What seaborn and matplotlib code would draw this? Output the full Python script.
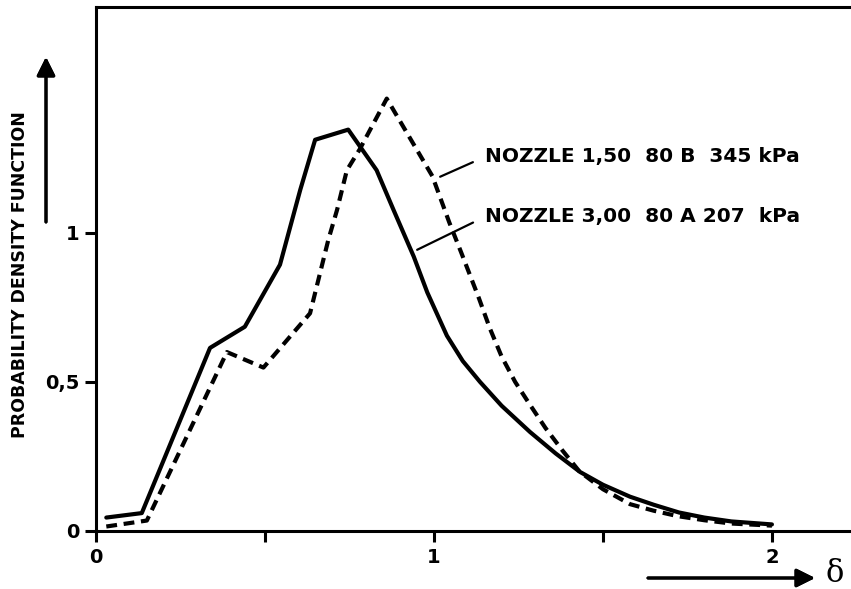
import pandas as pd
import seaborn as sns
import matplotlib.pyplot as plt

# Probability density vs delta
solid_x = [0.03, 0.135, 0.337, 0.44, 0.544, 0.604, 0.648, 0.746, 0.83, 0.88,
           0.94, 0.98, 1.038, 1.085, 1.136, 1.20, 1.284, 1.36, 1.432, 1.50,
           1.58, 1.65, 1.725, 1.80, 1.88, 2.0]
solid_y = [0.045, 0.06, 0.614, 0.685, 0.893, 1.144, 1.312, 1.346, 1.21, 1.077,
           0.92, 0.80, 0.655, 0.57, 0.50, 0.42, 0.332, 0.26, 0.198, 0.155,
           0.115, 0.088, 0.062, 0.045, 0.032, 0.022]

dashed_x = [0.03, 0.15, 0.387, 0.495, 0.633, 0.687, 0.713, 0.742, 0.78, 0.86,
            0.995, 1.045, 1.08, 1.133, 1.165, 1.20, 1.24, 1.28, 1.33, 1.38,
            1.43, 1.50, 1.58, 1.65, 1.72, 1.80, 1.88, 2.0]
dashed_y = [0.015, 0.035, 0.60, 0.548, 0.73, 0.976, 1.077, 1.21, 1.28, 1.45,
            1.19, 1.035, 0.935, 0.78, 0.68, 0.585, 0.50, 0.43, 0.345, 0.27,
            0.20, 0.14, 0.09, 0.068, 0.05, 0.036, 0.025, 0.018]

label_a = 'NOZZLE 3,00  80 A 207  kPa'
label_b = 'NOZZLE 1,50  80 B  345 kPa'

y_ticks = [0, 0.5, 1]
y_ticklabels = ['0', '0,5', '1']
x_ticks = [0, 0.5, 1, 1.5, 2]
x_ticklabels = ['0', '', '1', '', '2']

df_a = pd.DataFrame({'delta': solid_x, 'pdf': solid_y})
df_b = pd.DataFrame({'delta': dashed_x, 'pdf': dashed_y})

sns.set_style('ticks')
plt.rcParams['font.family'] = ['DejaVu Sans']
plt.rcParams['text.color'] = 'black'
plt.rcParams['xtick.color'] = 'black'
plt.rcParams['ytick.color'] = 'black'
plt.rcParams['xtick.labelcolor'] = 'black'
plt.rcParams['ytick.labelcolor'] = 'black'

fig = plt.figure(figsize=(8.51, 5.89), dpi=100)
ax = fig.add_axes([0.113, 0.0985, 0.887, 0.890])

sns.lineplot(data=df_a, x='delta', y='pdf', ax=ax, color='black',
             linewidth=3.0, sort=False)
sns.lineplot(data=df_b, x='delta', y='pdf', ax=ax, color='black',
             linewidth=3.0, sort=False, dashes=False, linestyle=(0, (2.6, 1.6)))

ax.set_xlim(0, 2.234)
ax.set_ylim(0, 1.758)
ax.set_xticks(x_ticks)
ax.set_xticklabels(x_ticklabels)
ax.set_yticks(y_ticks)
ax.set_yticklabels(y_ticklabels)
ax.tick_params(direction='out', length=8, width=2.2, labelsize=14, pad=4,
               colors='black')
for lab in ax.get_xticklabels() + ax.get_yticklabels():
    lab.set_fontweight('bold')

for side in ['left', 'bottom', 'top']:
    ax.spines[side].set_linewidth(2.2)
    ax.spines[side].set_color('black')
ax.spines['right'].set_visible(False)

ax.set_xlabel('')
ax.set_ylabel('')
fig.text(0.024, 1 - 275 / 589, 'PROBABILITY DENSITY FUNCTION', rotation=90,
         ha='center', va='center', fontsize=12.5, fontweight='bold',
         color='black')

# axis direction arrows
fig.add_artist(plt.annotate('', xy=(46 / 851, 1 - 57 / 589),
                            xytext=(46 / 851, 1 - 222 / 589),
                            xycoords='figure fraction',
                            arrowprops=dict(arrowstyle='-|>', lw=2.2,
                                            color='black', mutation_scale=28,
                                            shrinkA=0, shrinkB=0)))
fig.add_artist(plt.annotate('', xy=(815 / 851, 1 - 578 / 589),
                            xytext=(648 / 851, 1 - 578 / 589),
                            xycoords='figure fraction',
                            arrowprops=dict(arrowstyle='-|>', lw=2.2,
                                            color='black', mutation_scale=28,
                                            shrinkA=0, shrinkB=0)))
fig.text(835 / 851, 1 - 574 / 589, 'δ', ha='center', va='center',
         fontsize=22, family=['DejaVu Serif'], color='black')

# curve labels with leader lines
ax.annotate(label_b, xy=(1.018, 1.188), xytext=(1.151, 1.255),
            fontsize=14.5, fontweight='bold', va='center', ha='left',
            color='black',
            arrowprops=dict(arrowstyle='-', lw=1.6, color='black',
                            relpos=(0, 0.5), shrinkA=7, shrinkB=0))
ax.annotate(label_a, xy=(0.95, 0.943), xytext=(1.151, 1.054),
            fontsize=14.5, fontweight='bold', va='center', ha='left',
            color='black',
            arrowprops=dict(arrowstyle='-', lw=1.6, color='black',
                            relpos=(0, 0.5), shrinkA=7, shrinkB=0))

fig.savefig('out.png', dpi=100)
